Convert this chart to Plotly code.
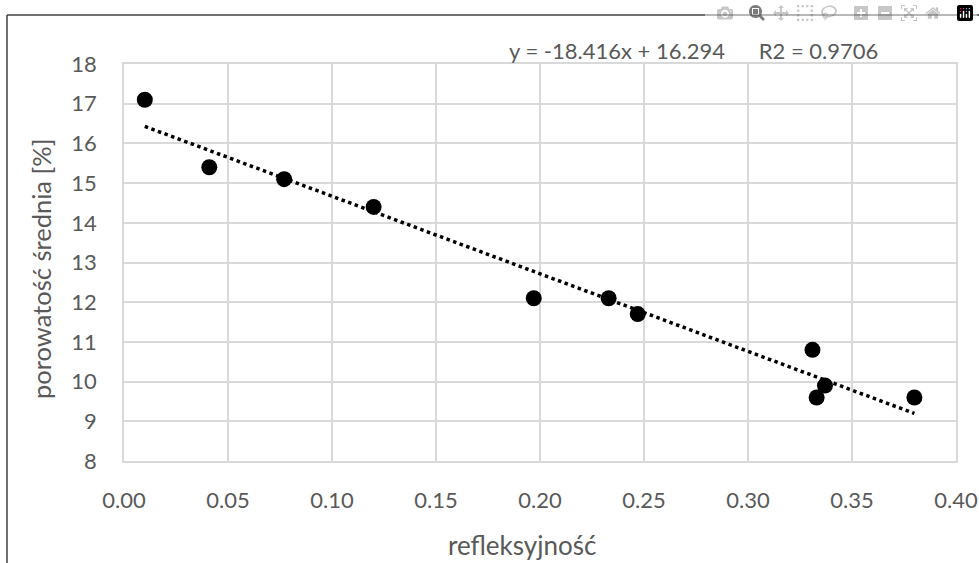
import numpy as np
import plotly.graph_objects as go

refleksyjnosc = [0.010, 0.041, 0.077, 0.120, 0.197, 0.233, 0.247, 0.331, 0.333, 0.337, 0.380]
porowatosc = [17.1, 15.4, 15.1, 14.4, 12.1, 12.1, 11.7, 10.8, 9.6, 9.9, 9.6]
eq_slope = -18.416
eq_intercept = 16.294
r2 = 0.9706
x_ticks = [0.0, 0.05, 0.10, 0.15, 0.20, 0.25, 0.30, 0.35, 0.40]
y_ticks = list(range(8, 19))

# linear trend line fitted to the plotted points
fit_slope, fit_intercept = np.polyfit(refleksyjnosc, porowatosc, 1)
trend_x = [min(refleksyjnosc), max(refleksyjnosc)]
trend_y = [fit_slope * v + fit_intercept for v in trend_x]

FONT = "Lato"
GRAY = "#595959"

fig = go.Figure()
fig.add_trace(go.Scatter(x=trend_x, y=trend_y, mode="lines",
                         line=dict(color="black", width=3.5, dash="dot"),
                         showlegend=False, hoverinfo="skip"))
fig.add_trace(go.Scatter(x=refleksyjnosc, y=porowatosc, mode="markers",
                         marker=dict(color="black", size=16),
                         showlegend=False))

# body margin is removed by the post script, so figure coords = page coords
OFF = 0
W, H = 979, 563
ml, mt = 124 - OFF, 64 - OFF
plot_right, plot_bottom = 956 - OFF, 461 - OFF
mr, mb = W - plot_right, H - plot_bottom
pw, ph = W - ml - mr, H - mt - mb

def px(x):
    return (x - OFF - ml) / pw

def py(y):
    return (H - mb - (y - OFF)) / ph

fig.update_layout(
    width=W, height=H,
    margin=dict(l=ml, r=mr, t=mt, b=mb, autoexpand=False),
    paper_bgcolor="white", plot_bgcolor="white",
    font=dict(family=FONT, color=GRAY, size=21),
    xaxis=dict(range=[0, 0.40], tickvals=x_ticks, tickformat=".2f",
               automargin=False, ticklabeloverflow="allow",
               showgrid=True, gridcolor="#d9d9d9", gridwidth=1.5,
               showline=True, linecolor="#d9d9d9", linewidth=1.5, mirror=True,
               zeroline=False, ticks="outside", ticklen=19, tickcolor="rgba(0,0,0,0)",
               tickfont=dict(size=22, color=GRAY, family=FONT)),
    yaxis=dict(range=[8, 18], tickvals=y_ticks,
               automargin=False,
               showgrid=True, gridcolor="#d9d9d9", gridwidth=1.5,
               showline=True, linecolor="#d9d9d9", linewidth=1.5, mirror=True,
               zeroline=False, ticks="outside", ticklen=21, tickcolor="rgba(0,0,0,0)",
               tickfont=dict(size=22, color=GRAY, family=FONT)),
    annotations=[
        dict(text=f"y = {eq_slope}x + {eq_intercept}&nbsp;&nbsp;&nbsp;&nbsp;&nbsp;&nbsp;R2 = {r2}",
             xref="paper", yref="paper", x=px(693), y=py(50),
             xanchor="center", yanchor="middle", showarrow=False,
             font=dict(size=22, color=GRAY, family=FONT)),
        dict(text="refleksyjność", xref="paper", yref="paper",
             x=px(522), y=py(545), xanchor="center", yanchor="middle",
             showarrow=False, font=dict(size=26, color=GRAY, family=FONT)),
        dict(text="porowatość średnia [%]", xref="paper", yref="paper",
             x=px(41), y=py(269), xanchor="center", yanchor="middle",
             textangle=-90, showarrow=False,
             font=dict(size=25.5, color=GRAY, family=FONT)),
    ],
    shapes=[
        dict(type="line", xref="paper", yref="paper",
             x0=px(7), x1=px(1000), y0=py(15), y1=py(15),
             line=dict(color="#404040", width=1.5), layer="below"),
        dict(type="line", xref="paper", yref="paper",
             x0=px(7), x1=px(7), y0=py(15), y1=py(600),
             line=dict(color="#404040", width=1.5), layer="below"),
    ],
)

fig.write_html(
    "out.html",
    post_script="document.body.style.margin='0';document.body.style.overflow='hidden';",
)
